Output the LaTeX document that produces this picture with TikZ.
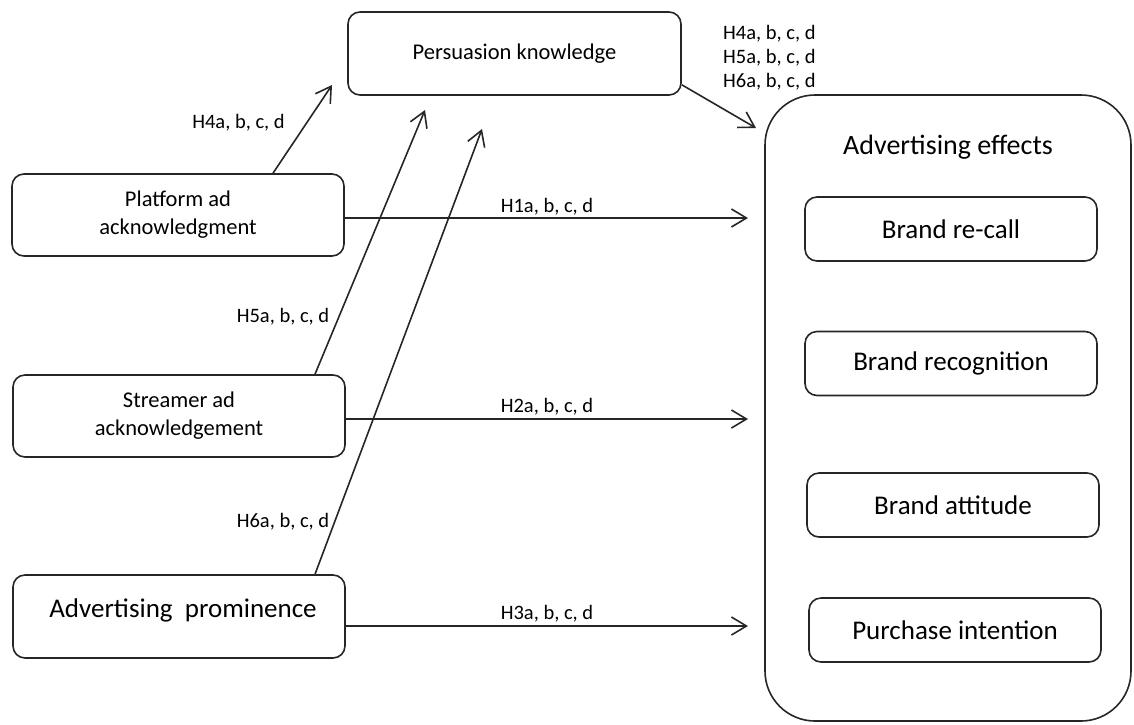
\documentclass[tikz,border=0pt]{standalone}
\usepackage{fontspec}
\setmainfont{Carlito}
\usetikzlibrary{arrows.meta,calc}
\tikzset{
  box/.style={draw=black!85, line width=1.6pt, rounded corners=12pt, inner sep=0pt, align=center,
    font=\fontsize{22.5}{28}\selectfont},
  effbox/.style={box, minimum width=292pt, minimum height=64pt, font=\fontsize{27}{32}\selectfont},
  leftbox/.style={box, minimum width=332pt, minimum height=82pt},
  lbl/.style={inner sep=0pt, font=\fontsize{20.5}{24}\selectfont},
  arr/.style={draw=black!85, line width=1.6pt, -{Straight Barb[length=15pt,width=18pt,line width=1.6pt]}},
}
\begin{document}
\begin{tikzpicture}[x=1pt,y=-1pt]
\useasboundingbox (0,0) rectangle (1134,724);
% top box
\node[box, minimum width=333pt, minimum height=83pt] (pk) at (514.5,53.5) {Persuasion knowledge};
% left boxes
\node[leftbox] (plat) at (178,215) {Platform ad\\acknowledgment};
\node[leftbox] (str) at (179,416) {Streamer ad\\acknowledgement};
\node[leftbox, minimum height=83pt] (prom) at (179,616.5) {};
\node[inner sep=0pt, font=\fontsize{27}{32}\selectfont] (promt) at (183,610) {Advertising\ \ prominence};
% effects container
\node[draw=black!85, line width=1.6pt, rounded corners=50pt, minimum width=366pt, minimum height=626pt, inner sep=0pt] (ae) at (948,408) {};
\node[inner sep=0pt, font=\fontsize{28}{33}\selectfont] (aet) at (948,147) {Advertising effects};
\node[effbox] (br) at (951,229) {Brand re-call};
\node[effbox] (brg) at (951,363.5) {Brand recognition};
\node[effbox] (ba) at (953,505) {Brand attitude};
\node[effbox] (pi) at (955,630) {Purchase intention};
% free arrow ends
\coordinate (h1e) at (748,218);
\coordinate (h2e) at (748,419);
\coordinate (h3e) at (748,626);
\coordinate (h4e) at (332,85);
\coordinate (h5e) at (425,110);
\coordinate (h6e) at (482,129);
\coordinate (pke) at (756,128);
% arrows
\draw[arr] ([yshift=-3pt]plat.east) -- (h1e);
\draw[arr] ([yshift=-3pt]str.east) -- (h2e);
\draw[arr] ([yshift=-9.5pt]prom.east) -- (h3e);
\draw[arr] ([xshift=95pt]plat.north) -- (h4e);
\draw[arr] ([xshift=136pt]str.north) -- (h5e);
\draw[arr] ([xshift=136pt]prom.north) -- (h6e);
\draw[arr] ([yshift=11pt]pk.south east) -- (pke);
% labels
\node[lbl] (l1) at (547,207) {H1a, b, c, d};
\node[lbl] (l2) at (547,407) {H2a, b, c, d};
\node[lbl] (l3) at (547,614) {H3a, b, c, d};
\node[lbl] (l4) at (238.5,123) {H4a, b, c, d};
\node[lbl] (l5) at (283,317) {H5a, b, c, d};
\node[lbl] (l6) at (283,522) {H6a, b, c, d};
\node[lbl, anchor=west] (t4) at (723,34) {H4a, b, c, d};
\node[lbl, anchor=west] (t5) at (723,58) {H5a, b, c, d};
\node[lbl, anchor=west] (t6) at (723,82) {H6a, b, c, d};
\end{tikzpicture}
\end{document}
